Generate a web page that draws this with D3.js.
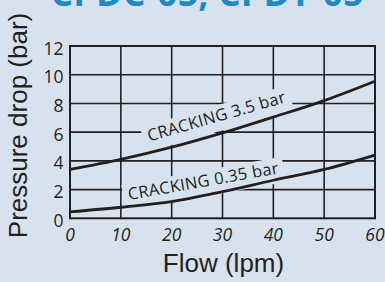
<!DOCTYPE html>
<html>
<head>
<meta charset="utf-8">
<script src="https://cdnjs.cloudflare.com/ajax/libs/d3/7.8.5/d3.min.js"></script>
<style>
  html, body { margin: 0; padding: 0; background: #d7e2ee; }
  svg { display: block; }
</style>
</head>
<body>
<div id="chart"></div>
<script>
// data
var flow = [0, 10, 20, 30, 40, 50, 60];
var cracking35 = [3.4, 4.1, 4.95, 5.95, 7.05, 8.2, 9.55];
var cracking035 = [0.45, 0.77, 1.16, 1.85, 2.65, 3.4, 4.4];
var xTicks = [0, 10, 20, 30, 40, 50, 60];
var yTicks = [0, 2, 4, 6, 8, 10, 12];
var labelText = ["CRACKING 3.5 bar", "CRACKING 0.35 bar"];
var labelFlow = [29.1, 26.4];
var labelPressure = [6.72, 2.2];
var labelAngle = [-16, -10];

var width = 385, height = 282;
var ink = "#231f20", bg = "#d7e2ee";

var svg = d3.select("#chart").append("svg")
  .attr("width", width)
  .attr("height", height);

svg.append("rect").attr("width", width).attr("height", height).attr("fill", bg);

// title, cut off at the top edge like the source
svg.append("text")
  .attr("x", 207).attr("y", 5.5)
  .attr("text-anchor", "middle")
  .style("font-family", "Open Sans")
  .style("font-weight", "bold")
  .style("font-size", "36px")
  .attr("fill", "#1e8bc8")
  .text("CPDC-05, CPDT-05");

var x = d3.scaleLinear().domain([0, 60]).range([70, 375]);
var y = d3.scaleLinear().domain([0, 12]).range([218.3, 46]);

// grid
var grid = svg.append("g").attr("stroke", ink).attr("stroke-width", 1.6);
grid.selectAll(".v").data(xTicks.slice(1, -1)).enter().append("line")
  .attr("x1", d => x(d)).attr("x2", d => x(d))
  .attr("y1", y(0)).attr("y2", y(12));
grid.selectAll(".h").data(yTicks.slice(1, -1)).enter().append("line")
  .attr("x1", x(0)).attr("x2", x(60))
  .attr("y1", d => y(d)).attr("y2", d => y(d));

// labels with background patches that cut the grid
var labels = svg.append("g");
labelText.forEach(function(t, i) {
  var g = labels.append("g")
    .attr("transform", "translate(" + x(labelFlow[i]) + "," + y(labelPressure[i]) + ") rotate(" + labelAngle[i] + ")");
  var txt = g.append("text")
    .attr("text-anchor", "middle")
    .style("font-family", "Open Sans")
    .style("font-size", "16.5px")
    .style("letter-spacing", "0.3px")
    .attr("fill", ink)
    .text(t);
  var w = txt.node().getComputedTextLength();
  g.insert("rect", "text")
    .attr("x", -w / 2 - 5).attr("width", w + 10)
    .attr("y", -16).attr("height", 25.5)
    .attr("fill", bg);
});

// frame
svg.append("rect")
  .attr("x", x(0)).attr("y", y(12))
  .attr("width", x(60) - x(0)).attr("height", y(0) - y(12))
  .attr("fill", "none").attr("stroke", ink).attr("stroke-width", 2);

// curves
var line = d3.line()
  .x(function(d, i) { return x(flow[i]); })
  .y(function(d) { return y(d); })
  .curve(d3.curveMonotoneX);

[cracking35, cracking035].forEach(function(s) {
  svg.append("path")
    .datum(s)
    .attr("d", line)
    .attr("fill", "none")
    .attr("stroke", ink)
    .attr("stroke-width", 2.8);
});

// tick labels
svg.append("g").selectAll("text").data(xTicks).enter().append("text")
  .attr("x", d => x(d)).attr("y", 240.5)
  .attr("text-anchor", "middle")
  .style("font-family", "Open Sans")
  .style("font-style", "italic")
  .style("font-size", "17.5px")
  .attr("fill", ink)
  .text(d => d);

svg.append("g").selectAll("text").data(yTicks).enter().append("text")
  .attr("x", 63.5).attr("y", d => y(d) + 8.5)
  .attr("text-anchor", "end")
  .style("font-family", "Open Sans")
  .style("font-size", "17.5px")
  .attr("fill", ink)
  .text(d => d);

// axis titles
svg.append("text")
  .attr("transform", "translate(27,125.5) rotate(-90)")
  .attr("text-anchor", "middle")
  .style("font-family", "Liberation Sans")
  .style("font-size", "26px")
  .attr("fill", ink)
  .text("Pressure drop (bar)");

svg.append("text")
  .attr("x", 223.5).attr("y", 272)
  .attr("text-anchor", "middle")
  .style("font-family", "Liberation Sans")
  .style("font-size", "26px")
  .attr("fill", ink)
  .text("Flow (lpm)");
</script>
</body>
</html>
